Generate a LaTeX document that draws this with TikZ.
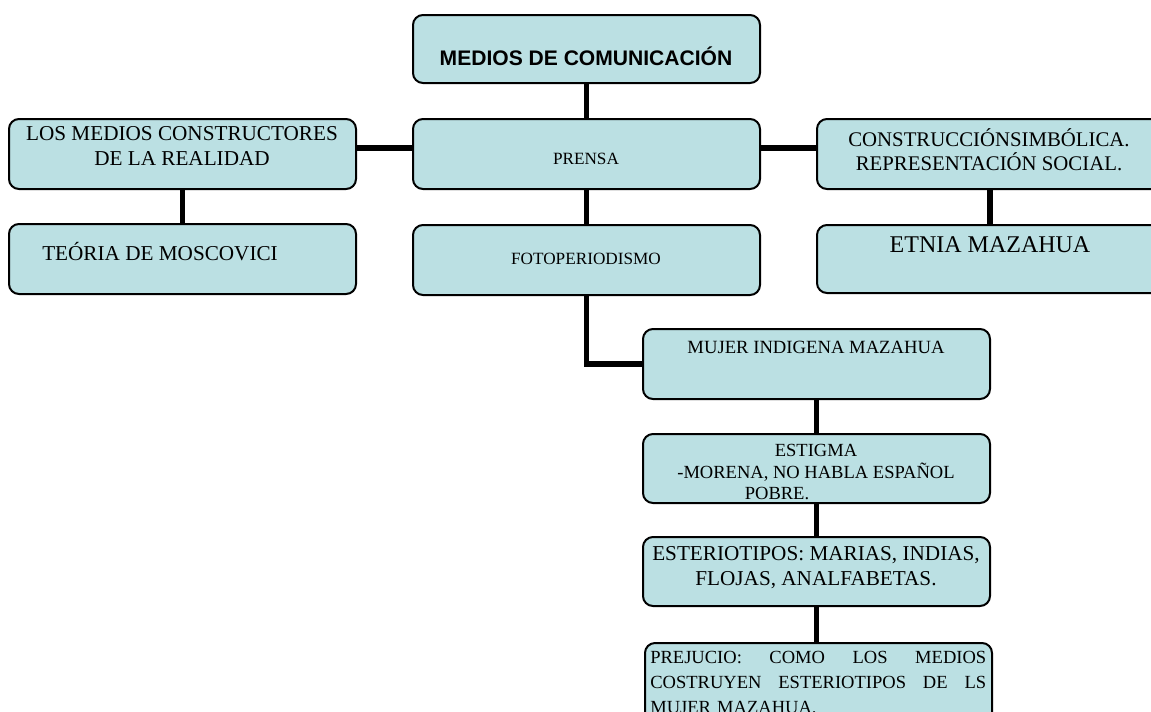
\documentclass[tikz,border=0pt]{standalone}
\usepackage{fontspec}
\setmainfont{Liberation Serif}
\newfontfamily\arialfont{Liberation Sans}
\usetikzlibrary{fit}
\definecolor{boxfill}{HTML}{BBE0E3}
\tikzset{
  box/.style={draw=black, line width=1.5pt, fill=boxfill, rounded corners=7.5pt, inner sep=0pt},
  conn/.style={draw=black, line width=4.2pt},
  txt/.style={inner sep=0pt, text=black},
  big/.style={font=\fontsize{15.9pt}{18.75pt}\selectfont},
  small/.style={font=\fontsize{12.9pt}{15pt}\selectfont},
  mid/.style={font=\fontsize{13.9pt}{16.2pt}\selectfont},
}
\begin{document}
\begin{tikzpicture}[x=0.75pt,y=-0.75pt]
\useasboundingbox (0,0) rectangle (1151,711);
\clip (0,0) rectangle (1151,711);
% boxes
\node[box, fit={(413,15)(760,83)}] (medios) {};
\node[box, fit={(413,119)(760,189)}] (prensa) {};
\node[box, fit={(413,225)(760,295)}] (foto) {};
\node[box, fit={(9,119)(356,189)}] (losmedios) {};
\node[box, fit={(9,224)(356,294)}] (teoria) {};
\node[box, fit={(817,119)(1163,189)}] (constr) {};
\node[box, fit={(817,225)(1163,293)}] (etnia) {};
\node[box, fit={(643,329)(990,399)}] (mujer) {};
\node[box, fit={(643,434)(990,503)}] (estigma) {};
\node[box, fit={(643,537)(990,606)}] (ester) {};
\node[box, fit={(645,643)(992,730)}] (prej) {};
% connectors
\draw[conn] (medios.south) -- (prensa.north);
\draw[conn] (prensa.south) -- (foto.north);
\draw[conn] ([yshift=4.5pt]losmedios.east) -- ([yshift=4.5pt]prensa.west);
\draw[conn] ([yshift=4.5pt]prensa.east) -- ([yshift=4.5pt]constr.west);
\draw[conn] (losmedios.south) -- (teoria.north);
\draw[conn] (constr.south) -- (etnia.north);
\draw[conn] (foto.south) |- (mujer.west);
\draw[conn] (mujer.south) -- (estigma.north);
\draw[conn] (estigma.south) -- (ester.north);
\draw[conn] (ester.south) -- (ester.south |- prej.north);
% texts
\node[txt, font=\arialfont\bfseries\fontsize{15.8pt}{18pt}\selectfont] (tmedios) at (586,56) {MEDIOS DE COMUNICACIÓN};
\node[txt, small] (tprensa) at (586,159) {PRENSA};
\node[txt, small] (tfoto) at (586,259) {FOTOPERIODISMO};
\node[txt, big, align=center] (tlosmedios) at (182,146) {LOS MEDIOS CONSTRUCTORES\\DE LA REALIDAD};
\node[txt, big, anchor=west] (tteoria) at (42,252) {TEÓRIA DE MOSCOVICI};
\node[txt, big, align=center, font=\fontsize{15.6pt}{18pt}\selectfont] (tconstr) at (989,150) {CONSTRUCCIÓNSIMBÓLICA.\\REPRESENTACIÓN SOCIAL.};
\node[txt, font=\fontsize{18pt}{21pt}\selectfont] (tetnia) at (990,245) {ETNIA MAZAHUA};
\node[txt, font=\fontsize{14pt}{16pt}\selectfont] (tmujer) at (816,347) {MUJER INDIGENA MAZAHUA};
\node[txt, mid, align=center] (testigma) at (816,472) {ESTIGMA\\-MORENA, NO HABLA ESPAÑOL\\POBRE.\hbox to 58.5pt{}};
\node[txt, big, align=center] (tester) at (816,568) {ESTERIOTIPOS: MARIAS, INDIAS,\\FLOJAS, ANALFABETAS.};
\node[txt, anchor=north west, text width=252pt, align=left, font=\fontsize{13.9pt}{18.75pt}\selectfont] (tprej) at (650,651) {PREJUCIO:\hfill COMO\hfill LOS\hfill MEDIOS\\COSTRUYEN\hfill ESTERIOTIPOS\hfill DE\hfill LS\\MUJER MAZAHUA.};
\end{tikzpicture}
\end{document}
